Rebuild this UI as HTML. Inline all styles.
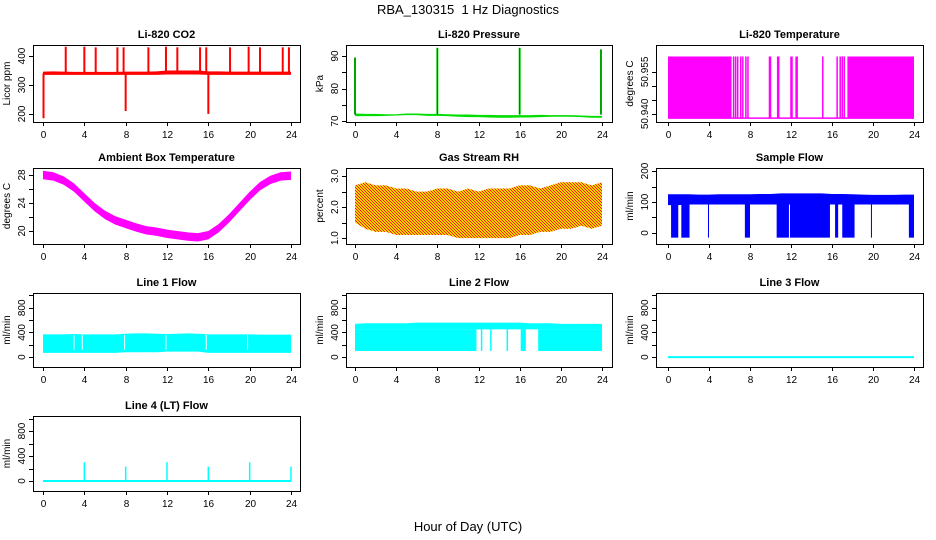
<!DOCTYPE html>
<html><head><meta charset="utf-8"><style>
html,body{margin:0;padding:0;background:#fff;}
svg{display:block;font-family:"Liberation Sans",sans-serif;}
</style></head><body>
<svg id="chart" width="936" height="540" viewBox="0 0 936 540">
<defs>
<pattern id="rhpat" width="3" height="3" patternUnits="userSpaceOnUse"><rect width="3" height="3" fill="#ffd000"/><rect width="1" height="1" fill="#ee2200"/><rect x="1" y="1" width="1" height="1" fill="#ee2200"/><rect x="2" y="2" width="1" height="1" fill="#ee2200"/></pattern>
</defs>
<text x="468" y="14" text-anchor="middle" font-size="13" style="white-space:pre">RBA_130315  1 Hz Diagnostics</text>
<text x="468" y="531" text-anchor="middle" font-size="13">Hour of Day (UTC)</text>
</svg>
<script>
// ---- data ----
const hours = [0,1,2,3,4,5,6,7,8,9,10,11,12,13,14,15,16,17,18,19,20,21,22,23,24];
const xTicks = [0,4,8,12,16,20,24];
const co2Lo = [335,335,335,335,335,335,335,335,335,335,335,335,336,336,336,336,335,335,335,335,335,335,335,335,335];
const co2Hi = [346,347,346,345,345,345,345,345,346,346,346,347,350,350,350,350,347,347,346,346,346,346,346,346,346];
const co2SpikeT = [0.05,2.2,4.0,5.1,7.2,7.8,8.0,10.2,11.9,13.0,15.2,15.8,16.0,18.1,19.9,21.0,23.2,23.8];
const co2SpikeV = [185,432,432,430,430,430,210,430,432,430,430,430,200,430,432,430,430,430];
const co2Ticks = [200,300,400];
const prLo = [71.5,71.5,71.5,71.6,71.7,71.8,71.8,71.6,71.6,71.5,71.3,71.2,71.2,71.1,71.0,71.0,71.1,71.1,71.2,71.3,71.3,71.3,71.2,71.0,71.0];
const prHi = [72.3,72.2,72.2,72.1,72.1,72.3,72.3,72.2,72.2,72.1,72.0,72.0,71.9,71.9,71.8,71.8,71.8,71.8,71.9,71.8,71.8,71.8,71.7,71.6,71.6];
const prSpikeT = [0.0,8.0,16.0,23.9];
const prSpikeV = [89.5,92.5,92.5,92];
const prTicks = [70,75,80,85,90];
const prLabels = [70,80,90];
const tmFullStart = [0.0,17.5];
const tmFullEnd = [6.2,24.0];
const tmLineT = [6.4,6.6,6.8,7.1,7.3,7.6,7.8,9.9,10.0,10.7,10.8,12.0,12.1,12.5,12.6,15.1,16.5,16.8,17.0,17.2];
const tmLo = 50.9385, tmHi = 50.9605;
const tmTicks = [50.940,50.945,50.950,50.955];
const tmLabels = ["50.940","50.955"];
const ambMid = [28,27.8,27.2,26.2,24.8,23.4,22.3,21.5,21.0,20.5,20.1,19.9,19.6,19.4,19.2,19.1,19.4,20.4,21.8,23.4,25.0,26.4,27.3,27.8,27.9];
const ambTicks = [20,22,24,26,28];
const ambLabels = [20,24,28];
const rhLo = [1.5,1.3,1.2,1.2,1.1,1.1,1.1,1.1,1.1,1.1,1.0,1.0,1.0,1.0,1.0,1.0,1.1,1.1,1.2,1.2,1.3,1.3,1.4,1.3,1.4];
const rhHi = [2.7,2.8,2.7,2.7,2.6,2.6,2.5,2.5,2.6,2.6,2.5,2.6,2.5,2.6,2.6,2.6,2.7,2.7,2.6,2.7,2.8,2.8,2.8,2.7,2.8];
const rhTicks = [1.0,1.5,2.0,2.5,3.0];
const rhLabels = ["1.0","2.0","3.0"];
const sfLo = [90,90,92,92,92,92,92,92,92,92,92,92,92,92,92,92,92,92,92,92,92,92,92,92,92];
const sfHi = [125,125,125,124,124,125,125,125,125,126,126,128,128,128,128,128,126,126,125,124,123,123,123,124,124];
const sfDropStart = [0.3,1.3,3.9,7.5,10.6,11.9,16.3,17.0,19.8,23.5];
const sfDropEnd = [1.0,2.1,4.0,8.0,11.8,15.8,16.6,18.2,19.9,24.0];
const sfTicks = [0,50,100,150,200];
const sfLabels = [0,100,200];
const l1Lo = [70,70,70,70,70,70,70,70,80,80,80,80,90,90,90,90,70,70,70,70,70,70,70,70,70];
const l1Hi = [370,370,370,375,370,370,370,370,380,385,385,380,375,380,385,380,370,370,370,370,370,365,365,365,365];
const l1GapT = [3.0,3.8,7.9,11.9,15.8,19.8];
const flowTicks = [0,200,400,600,800,1000];
const flowLabels = [0,400,800];
const l2Top = [540,550,550,550,550,550,560,560,560,560,560,560,560,560,560,560,560,550,550,550,540,540,540,540,540];
const l2FillStart = [0.0,16.1,17.8];
const l2FillEnd = [11.8,16.6,24.0];
const l2Bottom = 100;
const l2StripBottom = 450;
const l2LineT = [12.3,13.2,14.8];
const l4SpikeT = [4,8,12,16,20,24];
const l4SpikeV = [300,230,300,230,300,230];

// ---- layout ----
const svg = document.getElementById('chart');
const NS = 'http://www.w3.org/2000/svg';
const cols = [{bx0:33,bx1:300,x0:43,x24:291},{bx0:346,bx1:612,x0:355,x24:602},{bx0:656,bx1:923,x0:668,x24:914}];
const rows = [{top:45,bot:122},{top:168,bot:244},{top:293,bot:367},{top:416,bot:491}];
function el(tag, attrs, parent){const e=document.createElementNS(NS,tag);for(const k in attrs)e.setAttribute(k,attrs[k]);(parent||svg).appendChild(e);return e;}

function panel(name,title,ylab,c,r,ymin,ymax,ticks,labels){
  const C=cols[c],R=rows[r];
  const g=el('g',{});
  
  
  const xs=t=>C.x0+t*(C.x24-C.x0)/24;
  const ys=v=>R.bot-(v-ymin)/(ymax-ymin)*(R.bot-R.top);
  const t=el('text',{x:(C.bx0+C.bx1)/2,y:R.top-7,'text-anchor':'middle','font-size':11,'font-weight':'bold'},g);
  t.textContent=title;
  
  
  const yl=el('text',{transform:`translate(${C.bx0-23},${(R.top+R.bot)/2}) rotate(-90)`,'text-anchor':'middle','font-size':10},g);
  yl.textContent=ylab;
  
  
  const data=el('g',{},g);
  
  
  const ax=el('g',{stroke:'#000','stroke-width':1,fill:'none'},g);
  
  
  el('rect',{x:C.bx0+0.5,y:R.top+0.5,width:C.bx1-C.bx0,height:R.bot-R.top},ax);
  el('line',{x1:xs(0),x2:xs(24),y1:R.bot+0.5,y2:R.bot+0.5},ax);
  xTicks.forEach(v=>{
    const x=Math.round(xs(v))+0.5;
    el('line',{x1:x,x2:x,y1:R.bot,y2:R.bot+4},ax);
    const tt=el('text',{x:x,y:R.bot+16,'text-anchor':'middle','font-size':10,fill:'#000',stroke:'none'},g);
    tt.textContent=v;
    
    
  });
  ticks.forEach(v=>{
    const y=Math.round(ys(v))+0.5;
    el('line',{x1:C.bx0-4,x2:C.bx0,y1:y,y2:y},ax);
  });
  labels.forEach(v=>{
    const y=ys(+v);
    const tt=el('text',{transform:`translate(${C.bx0-8},${y}) rotate(-90)`,'text-anchor':'middle','font-size':10},g);
    tt.textContent=v;
    
    
  });
  return {g:data,xs,ys};
}
function band(p,lo,hi,fill){
  let d='M'+hours.map((h,i)=>p.xs(h)+','+p.ys(hi[i])).join('L');
  for(let i=hours.length-1;i>=0;i--)d+='L'+p.xs(hours[i])+','+p.ys(lo[i]);
  const e=el('path',{d:d+'Z',fill:fill},p.g);
  
  
}
function vline(p,t,v0,v1,color,w,dash){
  const e=el('line',{x1:p.xs(t),x2:p.xs(t),y1:p.ys(v0),y2:p.ys(v1),stroke:color,'stroke-width':w||1.5},p.g);
  if(dash)e.setAttribute('stroke-dasharray',dash);
  
  
}
function rect(p,t0,t1,v0,v1,fill){
  const e=el('rect',{x:p.xs(t0),y:p.ys(v1),width:p.xs(t1)-p.xs(t0),height:p.ys(v0)-p.ys(v1),fill:fill},p.g);
  
  
}

let p=panel('co2','Li-820 CO2','Licor ppm',0,0,172,438,co2Ticks,co2Ticks);
band(p,co2Lo,co2Hi,'#ff0000');
co2SpikeT.forEach((t,i)=>vline(p,t,340,co2SpikeV[i],'#ff0000',2));
p=panel('pressure','Li-820 Pressure','kPa',1,0,69.7,93.4,prTicks,prLabels);
band(p,prLo,prHi,'#00dd00');
prSpikeT.forEach((t,i)=>{vline(p,t,72,prSpikeV[i],'#00dd00',2);vline(p,t,72,prSpikeV[i],'#000',1,'1,1');});
p=panel('li820-temp','Li-820 Temperature','degrees C',2,0,50.9371,50.9646,tmTicks,tmLabels);
tmFullStart.forEach((s,i)=>rect(p,s,tmFullEnd[i],tmLo,tmHi,'#ff00ff'));
el('line',{x1:p.xs(0),x2:p.xs(24),y1:p.ys(tmLo),y2:p.ys(tmLo),stroke:'#ff00ff','stroke-width':1.5},p.g);
tmLineT.forEach(t=>vline(p,t,tmLo,tmHi,'#ff00ff',1.5));
p=panel('ambient','Ambient Box Temperature','degrees C',0,1,18.14,29,ambTicks,ambLabels);
band(p,ambMid.map(v=>v-0.6),ambMid.map(v=>v+0.6),'#ff00ff');
p=panel('rh','Gas Stream RH','percent',1,1,0.81,3.26,rhTicks,rhLabels);
band(p,rhLo,rhHi,'url(#rhpat)');
p=panel('sample-flow','Sample Flow','ml/min',2,1,-35.5,209.7,sfTicks,sfLabels);
band(p,sfLo,sfHi,'#0000ff');
sfDropStart.forEach((s,i)=>rect(p,s,sfDropEnd[i],-15,100,'#0000ff'));
p=panel('line1','Line 1 Flow','ml/min',0,2,-160,1040,flowTicks,flowLabels);
band(p,l1Lo,l1Hi,'#00ffff');
l1GapT.forEach(t=>vline(p,t,120,360,'#ffffff',1));
p=panel('line2','Line 2 Flow','ml/min',1,2,-160,1040,flowTicks,flowLabels);
band(p,hours.map(()=>l2StripBottom),l2Top,'#00ffff');
l2FillStart.forEach((s,i)=>rect(p,s,l2FillEnd[i],l2Bottom,l2StripBottom,'#00ffff'));
l2LineT.forEach(t=>vline(p,t,l2Bottom,l2StripBottom,'#00ffff',1.5));
p=panel('line3','Line 3 Flow','ml/min',2,2,-160,1040,flowTicks,flowLabels);
el('line',{x1:p.xs(0),x2:p.xs(24),y1:p.ys(0),y2:p.ys(0),stroke:'#00ffff','stroke-width':2},p.g);
p=panel('line4','Line 4 (LT) Flow','ml/min',0,3,-160,1040,flowTicks,flowLabels);
el('line',{x1:p.xs(0),x2:p.xs(24),y1:p.ys(0),y2:p.ys(0),stroke:'#00ffff','stroke-width':2},p.g);
l4SpikeT.forEach((t,i)=>vline(p,t,0,l4SpikeV[i],'#00ffff',1.5));
</script>
</body></html>
